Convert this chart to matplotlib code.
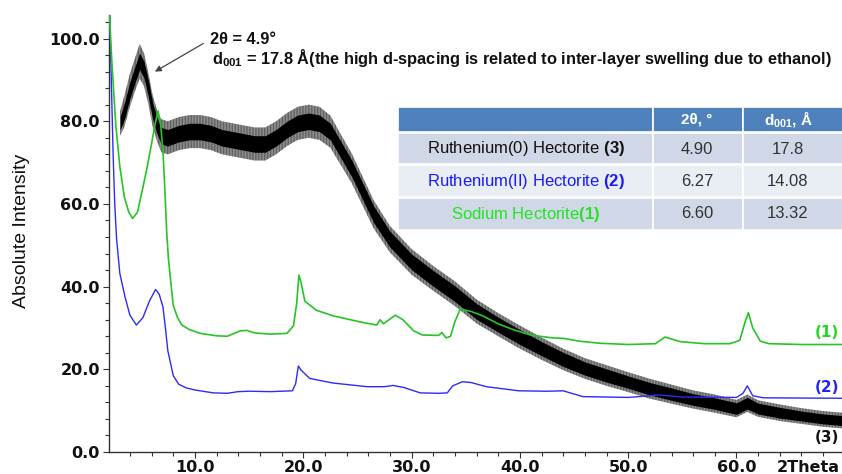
import matplotlib
matplotlib.use("Agg")
import matplotlib.pyplot as plt
from matplotlib.patches import Rectangle
from matplotlib.ticker import MultipleLocator, FixedLocator

plt.rcParams['mathtext.fontset'] = 'custom'
plt.rcParams['mathtext.rm'] = 'Liberation Sans'
plt.rcParams['mathtext.bf'] = 'Liberation Sans:bold'
plt.rcParams['mathtext.it'] = 'Liberation Sans:italic'
plt.rcParams['hatch.linewidth'] = 0.6

# ---------------- data ----------------
# Sodium Hectorite (1) - green
green_x = [2.06, 2.15, 2.3, 2.46, 2.7, 3.07, 3.5, 3.9, 4.25, 4.7, 5.2, 5.6, 6.0, 6.3, 6.6,
           6.85, 7.07, 7.25, 7.4, 7.55, 7.7, 8.0, 8.4, 8.8, 9.5, 10.5, 12.0, 13.0, 14.2,
           14.8, 15.5, 17.0, 18.5, 19.1, 19.4, 19.6, 19.8, 20.15, 21.2, 22.8, 25.2, 26.8,
           27.1, 27.4, 28.5, 29.2, 30.2, 31.0, 32.5, 32.8, 33.2, 33.6, 34.0, 34.5, 35.5,
           36.6, 38.0, 39.5, 41.0, 43.0, 44.0, 45.5, 47.4, 50.0, 52.5, 53.4, 54.8, 57.0,
           59.4, 60.3, 60.8, 61.1, 61.5, 62.2, 63.0, 66.0, 69.8]
green_y = [112, 104, 96, 89, 79, 69, 61.5, 58, 56.5, 58, 64, 69, 74.6, 79, 82.5,
           79, 72, 62, 53, 47, 43, 35.5, 32.5, 30.7, 29.6, 28.7, 28.1, 28.0, 29.3,
           29.4, 28.8, 28.5, 28.7, 30.5, 36, 42.8, 41, 36.5, 34.3, 32.9, 31.5, 30.7,
           32.0, 31.0, 33.1, 32.0, 29.3, 28.3, 28.2, 28.9, 27.6, 28.0, 31.5, 34.6, 34.0,
           32.9, 31.0, 29.5, 28.3, 27.6, 27.5, 26.8, 26.3, 26.0, 26.2, 27.8, 26.7, 26.2,
           26.2, 27.0, 31.5, 33.7, 30.0, 26.8, 26.2, 26.0, 26.0]

# Ruthenium(II) Hectorite (2) - blue
blue_x = [2.06, 2.15, 2.3, 2.45, 2.6, 2.77, 3.07, 3.54, 4.0, 4.6, 5.2, 5.8, 6.37, 6.7,
          7.05, 7.3, 7.5, 8.0, 8.5, 9.2, 10.0, 11.7, 13.0, 14.0, 15.0, 17.0, 19.0, 19.3,
          19.55, 19.8, 20.6, 22.7, 25.9, 27.5, 28.3, 29.3, 30.8, 32.5, 33.3, 33.8, 34.7,
          35.5, 36.9, 39.9, 42.5, 44.0, 45.8, 50.0, 52.9, 55.0, 60.0, 60.6, 61.0, 61.5,
          62.5, 69.8]
blue_y = [120, 105, 88, 72, 60, 51.5, 43.2, 37.6, 33.1, 30.7, 32.5, 36.5, 39.3, 38.2,
          35.1, 29.5, 24.5, 18.5, 16.4, 15.5, 15.0, 14.3, 14.2, 14.6, 14.7, 14.6, 14.8, 16.5,
          20.8, 19.8, 17.8, 16.7, 15.8, 15.8, 16.1, 15.6, 14.3, 14.2, 14.3, 16.0, 17.0,
          16.8, 15.8, 14.8, 14.7, 14.8, 13.4, 13.2, 13.8, 13.3, 13.2, 14.2, 16.0, 13.6,
          13.1, 13.0]

# Ruthenium(0) Hectorite (3) - black, noisy trace: mid line, dense-core and spike half-widths
black_x = [3.1, 3.5, 4.0, 4.5, 4.9, 5.3, 5.7, 6.1, 6.5, 6.9, 7.5, 8.5, 9.5, 10.5, 11.5,
           12.5, 13.5, 14.5, 15.5, 16.5, 17.5, 18.5, 19.5, 20.5, 21.5, 22.5, 23.5, 24.5,
           25.5, 26.5, 28.0, 30.0, 32.0, 34.0, 36.0, 38.0, 40.0, 42.0, 44.0, 46.0, 48.0,
           50.0, 52.0, 54.0, 56.0, 58.0, 60.0, 61.0, 62.0, 64.0, 66.0, 68.0, 69.8]
black_mid = [79.5, 82.5, 87.5, 91.5, 94.5, 92.5, 88, 82.5, 79, 76.5, 76, 77, 77.5, 77.5, 77,
             76, 75.5, 75, 74.5, 74.5, 76, 78, 79.5, 80, 79.5, 77.5, 73, 68.5,
             63, 57.5, 51.5, 46, 42, 38.3, 34, 30.8, 27.8, 25, 22.4, 20.2, 18.5,
             16.9, 15.3, 14, 12.7, 11.7, 10.5, 11.8, 10.5, 9.5, 8.7, 8.0, 7.6]
black_core = [1.6, 2.0, 2.0, 2.0, 2.0, 2.0, 2.0, 2.0, 2.0, 2.0, 2.0, 2.0, 2.0, 2.0, 2.0,
              2.0, 2.0, 2.0, 2.0, 2.0, 2.0, 2.0, 2.0, 2.0, 2.0, 2.0, 2.0, 2.0,
              2.0, 2.0, 1.9, 1.9, 1.9, 1.9, 1.9, 1.8, 1.8, 1.7, 1.7, 1.6, 1.6,
              1.5, 1.5, 1.5, 1.4, 1.4, 1.4, 1.4, 1.3, 1.3, 1.2, 1.2, 1.2]
black_spike = [3.0, 3.8, 4.0, 4.0, 4.2, 4.0, 3.8, 3.8, 3.8, 4.0, 4.0, 4.0, 4.0, 4.0, 4.0,
               4.0, 4.0, 4.0, 4.0, 4.0, 4.0, 4.0, 4.0, 4.0, 4.0, 3.9, 3.7, 3.6,
               3.5, 3.4, 3.2, 3.1, 3.0, 3.0, 2.9, 2.8, 2.8, 2.7, 2.6, 2.5, 2.5,
               2.4, 2.4, 2.3, 2.2, 2.2, 2.1, 2.1, 2.0, 2.0, 1.9, 1.9, 1.9]

x_major = [10, 20, 30, 40, 50, 60]
x_labels = ["10.0", "20.0", "30.0", "40.0", "50.0", "60.0"]
y_major = [0, 20, 40, 60, 80, 100]
y_labels = ["0.0", "20.0", "40.0", "60.0", "80.0", "100.0"]

table_header = ["", "2θ, °", r"$\mathbf{d}_{\mathbf{001}}$, Å"]
table_names = [r"Ruthenium(0) Hectorite $\mathbf{(3)}$",
               r"Ruthenium(II) Hectorite $\mathbf{(2)}$",
               r"Sodium Hectorite$\mathbf{(1)}$"]
table_2theta = ["4.90", "6.27", "6.60"]
table_d001 = ["17.8", "14.08", "13.32"]
table_name_colors = ["#111111", "#1a1aff", "#1ee61e"]

curve_labels = ["(1)", "(2)", "(3)"]
curve_label_y = [28.8, 15.6, 3.6]
curve_label_colors = ["#22d822", "#2222ff", "#111111"]

GREEN = "#27c427"
BLUE = "#2b2bff"

# ---------------- figure ----------------
W, H = 842, 474
fig = plt.figure(figsize=(W / 100, H / 100), dpi=100)
ax = fig.add_axes([109 / W, 1 - 452 / H, 1 - 109 / W, (452 - 15) / H])
ax.set_xlim(2.07, 69.74)
ax.set_ylim(0, 105.7)

lo_s = [m - s for m, s in zip(black_mid, black_spike)]
hi_s = [m + s for m, s in zip(black_mid, black_spike)]
lo_c = [m - s for m, s in zip(black_mid, black_core)]
hi_c = [m + s for m, s in zip(black_mid, black_core)]
ax.fill_between(black_x, lo_s, hi_s, facecolor="#000000", alpha=0.35, lw=0, zorder=2)
ax.fill_between(black_x, lo_s, hi_s, facecolor="none", edgecolor="#111111",
                hatch="|||||||||||", lw=0, alpha=0.55, zorder=2)
ax.fill_between(black_x, lo_c, hi_c, color="#000000", lw=0, zorder=3)

ax.plot(blue_x, blue_y, color=BLUE, lw=1.0, zorder=4)
ax.plot(green_x, green_y, color=GREEN, lw=1.2, zorder=5)

for sp in ["top", "right"]:
    ax.spines[sp].set_visible(False)
for sp in ["left", "bottom"]:
    ax.spines[sp].set_color("#333333")
    ax.spines[sp].set_linewidth(1.0)

ax.xaxis.set_major_locator(FixedLocator(x_major))
ax.set_xticklabels(x_labels)
ax.xaxis.set_minor_locator(MultipleLocator(2))
ax.yaxis.set_major_locator(FixedLocator(y_major))
ax.set_yticklabels(y_labels)
ax.yaxis.set_minor_locator(MultipleLocator(4))
ax.tick_params(which="both", direction="out", color="#333333", width=0.8)
ax.tick_params(which="major", length=4.5)
ax.tick_params(which="minor", length=3)
ax.tick_params(axis="x", which="major", pad=1.0)
ax.tick_params(axis="y", which="major", pad=2)
for lab in ax.get_xticklabels() + ax.get_yticklabels():
    lab.set_fontfamily("DejaVu Sans")
    lab.set_fontweight("bold")
    lab.set_fontsize(11.5)
    lab.set_color("#111111")

fig.text(777 / W, 1 - 459.5 / H, "2Theta", ha="left", va="top",
         family="DejaVu Sans", weight="bold", fontsize=11.5, color="#111111")

fig.text(22 / W, 1 - 231 / H, "Absolute Intensity", rotation=90, ha="center", va="center",
         family="Liberation Sans", fontsize=14, color="#111111")

# annotation
ax.annotate("", xy=(6.31, 92.0), xytext=(10.77, 98.8),
            arrowprops=dict(arrowstyle="-|>", color="#444444", lw=0.9,
                            mutation_scale=9, shrinkA=0, shrinkB=0), zorder=6)
fig.text(210 / W, 1 - 44.5 / H, "2θ = 4.9°", ha="left", va="baseline",
         family="Liberation Sans", weight="bold", fontsize=11.8, color="#111111")
fig.text(212 / W, 1 - 64 / H,
         r"$\mathbf{d}_{\mathbf{001}}$ = 17.8 Å(the high d-spacing is related to inter-layer swelling due to ethanol)",
         ha="left", va="baseline", family="Liberation Sans", weight="bold", fontsize=11.8,
         color="#111111")

# table
col_edges = [398, 652.5, 742.5, 845]
row_tops = [107, 133.5, 165.5, 198]
row_bots = [131.5, 164.5, 197, 230]
row_colors = ["#4f81bd", "#d0d8e8", "#e9edf4", "#d0d8e8"]
col_text_x = [526, 697, 788]
for r in range(4):
    for c in range(3):
        x0, x1 = col_edges[c], col_edges[c + 1]
        y0, y1 = row_tops[r], row_bots[r]
        rect = Rectangle((x0 / W, 1 - y1 / H), (x1 - x0) / W, (y1 - y0) / H,
                         transform=fig.transFigure, facecolor=row_colors[r],
                         edgecolor="white", lw=1.2, zorder=10)
        fig.add_artist(rect)

def row_center(r):
    return 1 - (row_tops[r] + row_bots[r]) / 2 / H

for c in range(1, 3):
    fig.text(col_text_x[c] / W, row_center(0), table_header[c], ha="center", va="center",
             family="Liberation Sans", weight="bold", fontsize=11, color="white", zorder=11)
for i in range(3):
    r = i + 1
    fig.text(col_text_x[0] / W, row_center(r), table_names[i], ha="center", va="center",
             family="Liberation Sans", fontsize=12, color=table_name_colors[i], zorder=11)
    fig.text(col_text_x[1] / W, row_center(r), table_2theta[i], ha="center", va="center",
             family="Liberation Sans", fontsize=12, color="#333333", zorder=11)
    fig.text(col_text_x[2] / W, row_center(r), table_d001[i], ha="center", va="center",
             family="Liberation Sans", fontsize=12, color="#333333", zorder=11)

# curve labels
for lab, yv, col in zip(curve_labels, curve_label_y, curve_label_colors):
    ax.text(0.996, yv, lab, transform=ax.get_yaxis_transform(), ha="right", va="center",
            family="DejaVu Sans", weight="bold", fontsize=11, color=col, zorder=7)

fig.savefig("out.png", dpi=100)
